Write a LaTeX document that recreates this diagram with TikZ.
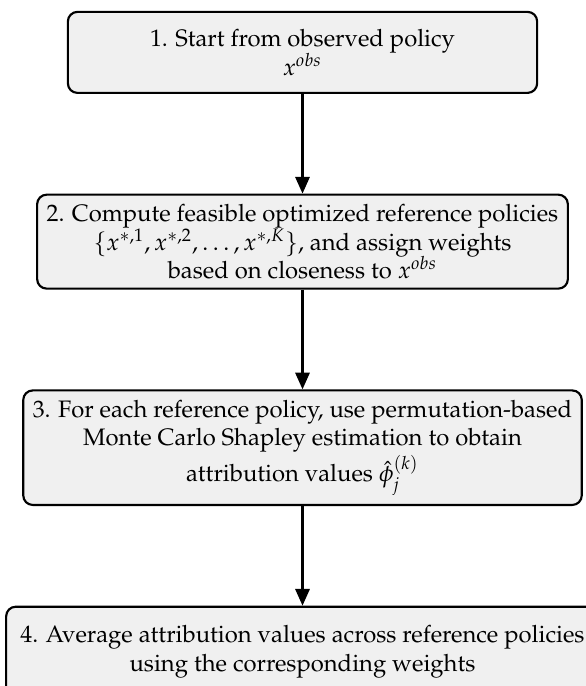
\documentclass[tikz,border=0pt]{standalone}
\usepackage[T1]{fontenc}
\usepackage{mathpazo}
\usetikzlibrary{arrows.meta,positioning}
\definecolor{stageink}{HTML}{000000}
\definecolor{stagefill}{HTML}{F0F0F0}
\tikzset{
  stagebox/.style={draw=stageink,fill=stagefill,rounded corners=4pt,
    line width=0.9pt,align=center,inner sep=4pt,minimum height=34pt},
  flow/.style={draw=stageink,line width=0.9pt,
    -{Triangle[length=7pt,width=6pt]}},
}
\begin{document}
\begin{tikzpicture}[node distance=1.47cm]
  % frame first, so the last box is cut off at the edges
  \path[use as bounding box] (-127pt,22pt) rectangle (119pt,-266pt);
  % four stages, stacked top to bottom
  \node[stagebox,minimum width=197pt] (s1) at (0,0)
    {1. Start from observed policy\\ $x^{obs}$};
  \node[stagebox,below=of s1,minimum height=38pt] (s2)
    {2. Compute feasible optimized reference policies\\
     $\{x^{*,1},x^{*,2},\ldots,x^{*,K}\}$, and assign weights\\
     based on closeness to $x^{obs}$};
  \node[stagebox,below=of s2,minimum height=47pt] (s3)
    {3. For each reference policy, use permutation-based\\
     Monte Carlo Shapley estimation to obtain\\
     attribution values $\hat{\phi}_j^{(k)}$};
  \node[stagebox,below=of s3,inner xsep=6pt,minimum height=38pt] (s4)
    {4. Average attribution values across reference policies\\
     using the corresponding weights};
  \draw[flow] (s1) -- (s2);
  \draw[flow] (s2) -- (s3);
  \draw[flow] (s3) -- (s4);
\end{tikzpicture}
\end{document}
